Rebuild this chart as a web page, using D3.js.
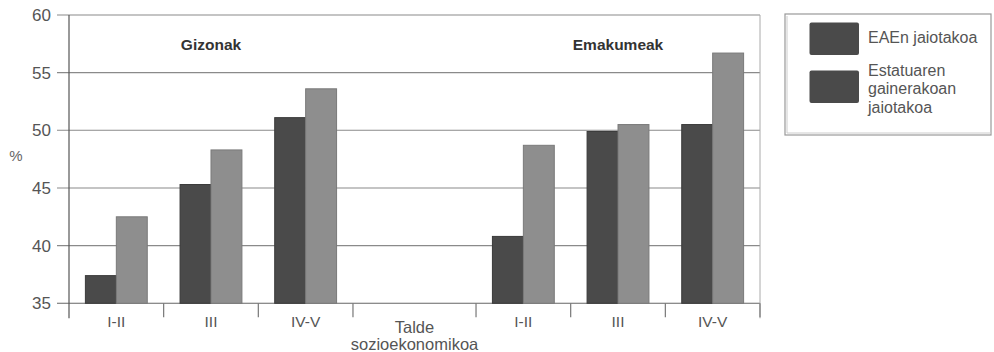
<!DOCTYPE html>
<html><head><meta charset="utf-8">
<script src="https://cdn.jsdelivr.net/npm/d3@7"></script>
<style>
html,body{margin:0;padding:0;background:#fff;}
svg{display:block;font-family:"Liberation Sans",Arial,sans-serif;}
</style></head>
<body><svg id="chart" width="994" height="352"></svg>
<script>
// ---- data ----
const groups = ["Gizonak", "Emakumeak"];
const categories = ["I-II", "III", "IV-V"];
const seriesNames = ["EAEn jaiotakoa", "Estatuaren gainerakoan jaiotakoa"];
const gizonakEAE = [37.4, 45.3, 51.1];
const gizonakEstatu = [42.5, 48.3, 53.6];
const emakumeakEAE = [40.8, 49.9, 50.5];
const emakumeakEstatu = [48.7, 50.5, 56.7];
const yTicks = [35, 40, 45, 50, 55, 60];
const xTitleLines = ["Talde", "sozioekonomikoa"];
const yTitle = "%";
const legendLines = [["EAEn jaiotakoa"], ["Estatuaren", "gainerakoan", "jaiotakoa"]];

(function () {
// ---- layout ----
const svg = d3.select("#chart");
const pLeft = 69, pRight = 760, pTop = 15, pBottom = 303.3;
const darkCol = "#4a4a4a", lightCol = "#8e8e8e";
const colors = [darkCol, lightCol];

// slots: 3 categories, a wider gap slot holding the axis title, 3 categories
const gapW = 1.3;
const groupStart = [0, 3 + gapW];
const slots = [];
categories.forEach((c, i) => slots.push({group: 0, cat: c, i, start: groupStart[0] + i, w: 1}));
slots.push({gap: true, start: 3, w: gapW});
categories.forEach((c, i) => slots.push({group: 1, cat: c, i, start: groupStart[1] + i, w: 1}));
const total = 6 + gapW;

const x = d3.scaleLinear().domain([0, total]).range([pLeft, pRight]);
const y = d3.scaleLinear().domain([35, 60]).range([pBottom, pTop]);
const inner = d3.scaleBand().domain(seriesNames).range([0, x(1) - x(0)]).paddingInner(0).paddingOuter(0.53);

const values = [[gizonakEAE, gizonakEstatu], [emakumeakEAE, emakumeakEstatu]];

// gridlines + y ticks
svg.append("g").selectAll("line").data(yTicks).join("line")
  .attr("x1", pLeft - 12).attr("x2", pRight)
  .attr("y1", d => y(d)).attr("y2", d => y(d))
  .attr("stroke", d => d === 35 ? "#666" : "#8a8a8a").attr("stroke-width", 1.1);

svg.append("g").selectAll("text").data(yTicks).join("text")
  .attr("x", 51).attr("y", d => y(d)).attr("dy", "0.36em")
  .attr("text-anchor", "end").attr("font-size", 17).attr("fill", "#555")
  .text(d => d);

svg.append("text").attr("x", 16).attr("y", 156).attr("dy", "0.36em")
  .attr("text-anchor", "middle").attr("font-size", 15).attr("fill", "#666").text(yTitle);

// right border
svg.append("line").attr("x1", pRight).attr("x2", pRight).attr("y1", pTop).attr("y2", pBottom + 15)
  .attr("stroke", "#aaa").attr("stroke-width", 1);

// bars
const barData = [];
slots.forEach(s => {
  if (s.gap) return;
  seriesNames.forEach((sn, k) => {
    barData.push({s, k, sn, v: values[s.group][k][s.i]});
  });
});
svg.append("g").selectAll("rect").data(barData).join("rect")
  .attr("x", d => x(d.s.start) + inner(d.sn))
  .attr("width", inner.bandwidth())
  .attr("y", d => y(d.v))
  .attr("height", d => y(35) - y(d.v))
  .attr("fill", d => colors[d.k])
  .attr("stroke", d => d.k === 0 ? "#3a3a3a" : "#7a7a7a").attr("stroke-width", 1);

// left axis line
svg.append("line").attr("x1", pLeft).attr("x2", pLeft).attr("y1", pTop).attr("y2", pBottom + 15)
  .attr("stroke", "#555").attr("stroke-width", 1.2);

// x ticks at slot boundaries
const bounds = slots.map(s => s.start).concat([total]).slice(1);
svg.append("g").selectAll("line").data(bounds).join("line")
  .attr("x1", d => x(d)).attr("x2", d => x(d))
  .attr("y1", pBottom).attr("y2", pBottom + 14)
  .attr("stroke", "#777").attr("stroke-width", 1.2);

// category labels
svg.append("g").selectAll("text").data(slots.filter(s => !s.gap)).join("text")
  .attr("x", d => x(d.start + d.w / 2)).attr("y", 321).attr("dy", "0.36em")
  .attr("text-anchor", "middle").attr("font-size", 15.5).attr("fill", "#555")
  .text(d => d.cat);

// axis title in gap slot
const gapSlot = slots.find(s => s.gap);
svg.append("g").selectAll("text").data(xTitleLines).join("text")
  .attr("x", x(gapSlot.start + gapSlot.w / 2)).attr("y", (d, i) => 327 + i * 17).attr("dy", "0.36em")
  .attr("text-anchor", "middle").attr("font-size", 16.5).attr("fill", "#555")
  .text(d => d);

// group titles
svg.append("g").selectAll("text").data(groups).join("text")
  .attr("x", (d, g) => x(groupStart[g] + 1.5)).attr("y", 44).attr("dy", "0.36em")
  .attr("text-anchor", "middle").attr("font-size", 15.5).attr("font-weight", "bold").attr("fill", "#333")
  .text(d => d);

// legend
const lg = svg.append("g");
lg.append("rect").attr("x", 785).attr("y", 14).attr("width", 206).attr("height", 121)
  .attr("fill", "#fff").attr("stroke", "#999").attr("stroke-width", 1.2);
lg.append("polyline").attr("points", "787,16 787,133 991,133").attr("fill", "none")
  .attr("stroke", "#ccc").attr("stroke-width", 1);
const swY = [22.5, 70.5];
lg.selectAll("rect.sw").data(seriesNames).join("rect").attr("class", "sw")
  .attr("x", 809.5).attr("y", (d, i) => swY[i]).attr("width", 49.5).attr("height", 32.5)
  .attr("rx", 2).attr("fill", darkCol);
const lineStarts = [37.5, 70];
legendLines.forEach((lines, i) => {
  lg.append("g").selectAll("text").data(lines).join("text")
    .attr("x", 868).attr("y", (d, j) => lineStarts[i] + j * 18.7).attr("dy", "0.36em")
    .attr("font-size", 16).attr("fill", "#555").text(d => d);
});
})();
</script>
</body></html>
